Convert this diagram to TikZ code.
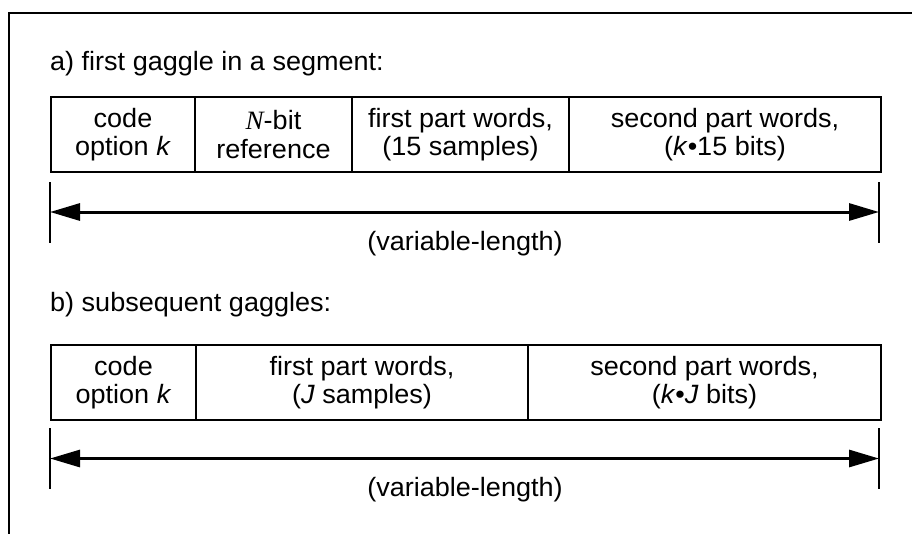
\documentclass[tikz,border=0pt]{standalone}
\usepackage{fontspec}
\setmainfont[FakeStretch=1.02]{Liberation Sans}
\newfontfamily\serifN[FakeStretch=1.02]{Liberation Serif}
\usetikzlibrary{arrows.meta}
\tikzset{
  txt/.style={font=\fontsize{26.5}{28.5}\selectfont, inner sep=0pt},
  cell/.style={txt, draw, line width=2pt, minimum height=75pt, anchor=north west, align=center},
  tickline/.style={line width=2pt},
  dimarrow/.style={line width=3pt, {Triangle[length=30pt,width=17pt]}-{Triangle[length=30pt,width=17pt]}},
  frameline/.style={line width=2pt}
}
\begin{document}
\begin{tikzpicture}[x=1pt,y=-1pt]
\useasboundingbox (0,0) rectangle (912,533);
% frame
\coordinate (fBL) at (9,540);
\coordinate (fTL) at (9,13);
\coordinate (fTR) at (920,13);
\draw[frameline] (fBL) -- (fTL) -- (fTR);

% headings
\node[txt, anchor=base west] (ha) at (50,70) {a) first gaggle in a segment:};
\node[txt, anchor=base west] (hb) at (50,311.5) {b) subsequent gaggles:};

% row a
\node[cell, minimum width=144pt] (a1) at (50,96) {code\\option \textit{k}};
\node[cell, minimum width=157pt] (a2) at (194,96) {{\serifN\itshape N}-bit\\reference};
\node[cell, minimum width=217pt] (a3) at (351,96) {first part words,\\(15 samples)};
\node[cell, minimum width=312pt] (a4) at (568,96) {second part words,\\(\textit{k}•15 bits)};

% row b
\node[cell, minimum width=145pt] (b1) at (50,344) {code\\option \textit{k}};
\node[cell, minimum width=332pt] (b2) at (195,344) {first part words,\\(\textit{J} samples)};
\node[cell, minimum width=353pt] (b3) at (527,344) {second part words,\\(\textit{k}•\textit{J} bits)};

% dimension a
\coordinate (aLt) at (50,182); \coordinate (aLb) at (50,243);
\coordinate (aRt) at (879,182); \coordinate (aRb) at (879,243);
\coordinate (aL) at (50,212); \coordinate (aR) at (879,212);
\draw[tickline] (aLt) -- (aLb);
\draw[tickline] (aRt) -- (aRb);
\draw[dimarrow] (aL) -- (aR);
\node[txt, anchor=base] (la) at (465,250) {(variable-length)};

% dimension b
\coordinate (bLt) at (50,428); \coordinate (bLb) at (50,489);
\coordinate (bRt) at (879,428); \coordinate (bRb) at (879,489);
\coordinate (bL) at (50,458.5); \coordinate (bR) at (879,458.5);
\draw[tickline] (bLt) -- (bLb);
\draw[tickline] (bRt) -- (bRb);
\draw[dimarrow] (bL) -- (bR);
\node[txt, anchor=base] (lb) at (465,496) {(variable-length)};
\end{tikzpicture}
\end{document}
